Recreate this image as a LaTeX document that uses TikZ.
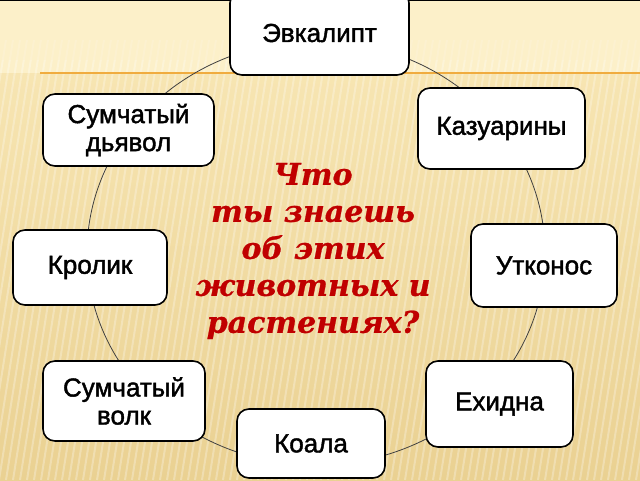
\documentclass[tikz,border=0pt]{standalone}
\usepackage{fontspec}
\setmainfont{Liberation Sans}
\newfontfamily\boxfont{Liberation Sans}[FakeBold=1.6]
\newfontfamily\qfont{DejaVu Serif}[FakeBold=0.8]
\definecolor{bgtop}{RGB}{252,240,201}
\definecolor{bgmid}{RGB}{247,229,178}
\definecolor{bgbot}{RGB}{234,209,146}
\definecolor{bandline}{RGB}{240,172,64}
\definecolor{qred}{RGB}{192,0,0}
\begin{document}
\begin{tikzpicture}[x=1pt,y=-1pt,
  box/.style={draw=black, line width=1.6pt, fill=white, rounded corners=12pt,
    align=center, inner sep=0pt, text=black,
    font=\boxfont\fontsize{26}{28}\selectfont},
  ring/.style={draw=black!75, line width=0.8pt},
  stripe/.style={white, opacity=0.28, line width=2pt},
]
\useasboundingbox (0,0) rectangle (640,480);
% background
\fill[bgtop] (0,0) rectangle (640,73);
\shade[top color=bgmid, bottom color=bgbot] (0,73) rectangle (640,480);
\begin{scope}
  \clip (0,40) rectangle (640,480);
  \foreach \i in {-120,-113,...,660} {
    \draw[stripe] (\i,480) -- (\i+70,40);
  }
\end{scope}
\fill[bgtop, opacity=0.5] (0,0) rectangle (640,60);
\draw[bandline, line width=1.2pt] (40,73) -- (640,73);
\draw[black, line width=1.5pt] (0,0.6) -- (640,0.6);
% ring behind the boxes
\draw[ring] (316,253) ellipse [x radius=229, y radius=212];
% boxes
\node[box, minimum width=179pt, minimum height=84pt] (evk) at (319.5,33) {Эвкалипт};
\node[box, minimum width=171pt, minimum height=72pt] (dev) at (128.5,130) {Сумчатый\\дьявол};
\node[box, minimum width=167pt, minimum height=81pt] (kaz) at (501.5,128.5) {Казуарины};
\node[box, minimum width=154pt, minimum height=75pt] (kro) at (90,267.5) {Кролик};
\node[box, minimum width=146pt, minimum height=83pt] (utk) at (544,265.5) {Утконос};
\node[box, minimum width=162pt, minimum height=80pt] (volk) at (124,401) {Сумчатый\\волк};
\node[box, minimum width=147pt, minimum height=86pt] (ehi) at (499.5,404) {Ехидна};
\node[box, minimum width=148pt, minimum height=69pt] (koa) at (311,443.5) {Коала};
% question
\node[text=qred, align=center, inner sep=0pt,
  font=\qfont\bfseries\itshape\fontsize{30}{37}\selectfont] (q) at (313,251)
  {Что\\ты знаешь\\об этих\\животных и\\растениях?};
\end{tikzpicture}
\end{document}
